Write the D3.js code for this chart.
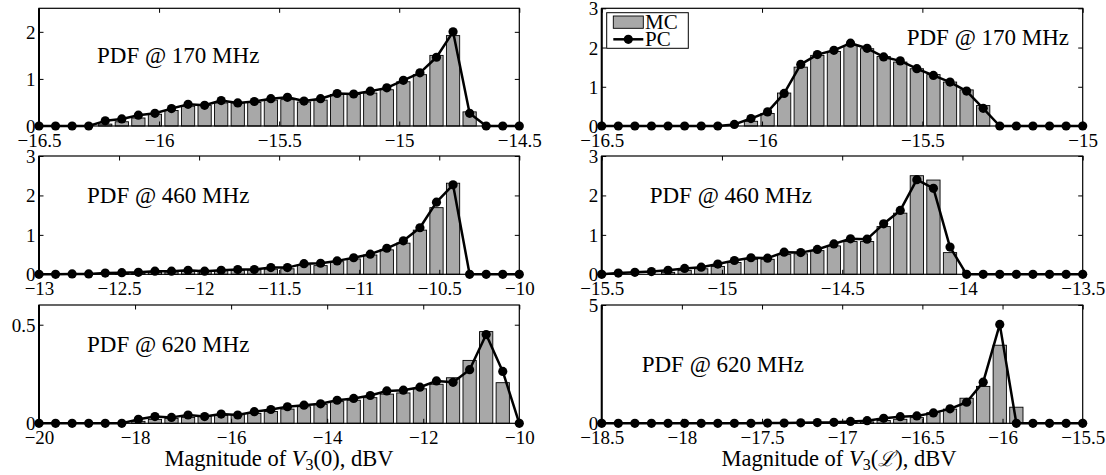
<!DOCTYPE html>
<html><head><meta charset="utf-8">
<script src="https://cdn.jsdelivr.net/npm/d3@7"></script>
<style>
body{margin:0;background:#fff}
svg{display:block}
</style>
</head><body>
<svg id="c" width="1106" height="475" style="font-family:'Liberation Serif','DejaVu Serif',serif"></svg>
<script>
// ---------- data ----------
const binCount = 30;

const xDomain170L = [-16.5, -14.5];
const xTicks170L = [-16.5, -16, -15.5, -15, -14.5];
const xLabels170L = ["−16.5", "−16", "−15.5", "−15", "−14.5"];
const yTicks170L = [0, 1, 2];
const yLabels170L = ["0", "1", "2"];
const pc170L = [0,0,0,0,0.11,0.15,0.23,0.27,0.37,0.46,0.44,0.54,0.49,0.52,0.58,0.61,0.53,0.58,0.69,0.68,0.74,0.81,0.97,1.13,1.46,2.0,0.27,0,0,0];
const mc170L = [0,0,0,0,0.04,0.09,0.17,0.25,0.33,0.42,0.44,0.49,0.49,0.50,0.55,0.56,0.51,0.55,0.67,0.67,0.70,0.77,0.94,1.09,1.50,1.92,0.30,0,0,0];

const xDomain170R = [-16.5, -15];
const xTicks170R = [-16.5, -16, -15.5, -15];
const xLabels170R = ["−16.5", "−16", "−15.5", "−15"];
const yTicks170R = [0, 1, 2, 3];
const yLabels170R = ["0", "1", "2", "3"];
const pc170R = [0,0,0,0,0,0,0,0,0.04,0.19,0.36,0.83,1.57,1.82,1.93,2.11,1.98,1.76,1.66,1.46,1.29,1.12,0.89,0.45,0,0,0,0,0,0];
const mc170R = [0,0,0,0,0,0,0,0,0,0.12,0.32,0.84,1.50,1.80,1.90,2.05,1.97,1.77,1.63,1.46,1.31,1.12,0.92,0.52,0,0,0,0,0,0];

const xDomain460L = [-13, -10];
const xTicks460L = [-13, -12.5, -12, -11.5, -11, -10.5, -10];
const xLabels460L = ["−13", "−12.5", "−12", "−11.5", "−11", "−10.5", "−10"];
const yTicks460L = [0, 1, 2, 3];
const yLabels460L = ["0", "1", "2", "3"];
const pc460L = [0,0,0.01,0.01,0.03,0.04,0.05,0.08,0.08,0.10,0.08,0.10,0.12,0.12,0.17,0.17,0.27,0.28,0.34,0.42,0.51,0.66,0.85,1.18,1.83,2.27,0,0,0,0];
const mc460L = [0,0,0,0,0,0.02,0.03,0.05,0.06,0.07,0.08,0.09,0.10,0.11,0.13,0.14,0.24,0.22,0.32,0.39,0.49,0.62,0.79,1.12,1.69,2.31,0,0,0,0];

const xDomain460R = [-15.5, -13.5];
const xTicks460R = [-15.5, -15, -14.5, -14, -13.5];
const xLabels460R = ["−15.5", "−15", "−14.5", "−14", "−13.5"];
const yTicks460R = [0, 1, 2, 3];
const yLabels460R = ["0", "1", "2", "3"];
const pc460R = [0,0.03,0.05,0.07,0.10,0.15,0.18,0.26,0.35,0.42,0.41,0.56,0.55,0.63,0.77,0.90,0.89,1.28,1.62,2.40,2.18,0.69,0,0,0,0,0,0,0,0];
const mc460R = [0,0,0,0,0.05,0.10,0.14,0.20,0.30,0.38,0.38,0.50,0.52,0.60,0.72,0.83,0.83,1.21,1.55,2.50,2.39,0.55,0,0,0,0,0,0,0,0];

const xDomain620L = [-20, -10];
const xTicks620L = [-20, -18, -16, -14, -12, -10];
const xLabels620L = ["−20", "−18", "−16", "−14", "−12", "−10"];
const yTicks620L = [0, 0.5];
const yLabels620L = ["0", "0.5"];
const pc620L = [0,0,0,0,0,0,0.020,0.034,0.030,0.042,0.034,0.047,0.042,0.059,0.070,0.084,0.092,0.099,0.117,0.126,0.141,0.164,0.168,0.183,0.215,0.208,0.272,0.450,0.263,0];
const mc620L = [0,0,0,0,0,0,0.010,0.020,0.025,0.030,0.035,0.040,0.045,0.050,0.060,0.072,0.084,0.096,0.110,0.117,0.130,0.148,0.154,0.175,0.198,0.231,0.319,0.465,0.206,0];

const xDomain620R = [-18.5, -15.5];
const xTicks620R = [-18.5, -18, -17.5, -17, -16.5, -16, -15.5];
const xLabels620R = ["−18.5", "−18", "−17.5", "−17", "−16.5", "−16", "−15.5"];
const yTicks620R = [0, 5];
const yLabels620R = ["0", "5"];
const pc620R = [0,0,0,0,0,0,0,0,0,0,0.01,0.01,0.02,0.03,0.04,0.08,0.11,0.21,0.28,0.31,0.44,0.61,0.89,1.74,4.18,0,0,0,0,0];
const mc620R = [0,0,0,0,0,0,0,0,0,0,0,0,0.01,0.02,0.03,0.04,0.06,0.12,0.17,0.24,0.45,0.60,1.06,1.56,3.30,0.68,0,0,0,0];

const panelLabels = ["PDF @ 170 MHz", "PDF @ 170 MHz", "PDF @ 460 MHz", "PDF @ 460 MHz", "PDF @ 620 MHz", "PDF @ 620 MHz"];
const yMaxes = [2.5, 3, 3, 3, 0.6, 5];
const legendLabels = ["MC", "PC"];

// ---------- layout ----------
const FONT = "'Liberation Serif','DejaVu Serif',serif";
const cols = [[39, 519.3], [601.7, 1082.7]];
const rows = [[8.3, 126], [156, 274.3], [305, 423.3]];
const labelPos = [[58, 55], [305, 37], [48, 47], [48, 47], [48, 47], [40, 67]];

const panels = [
  {xd: xDomain170L, xt: xTicks170L, xl: xLabels170L, yt: yTicks170L, yl: yLabels170L, pc: pc170L, mc: mc170L},
  {xd: xDomain170R, xt: xTicks170R, xl: xLabels170R, yt: yTicks170R, yl: yLabels170R, pc: pc170R, mc: mc170R},
  {xd: xDomain460L, xt: xTicks460L, xl: xLabels460L, yt: yTicks460L, yl: yLabels460L, pc: pc460L, mc: mc460L},
  {xd: xDomain460R, xt: xTicks460R, xl: xLabels460R, yt: yTicks460R, yl: yLabels460R, pc: pc460R, mc: mc460R},
  {xd: xDomain620L, xt: xTicks620L, xl: xLabels620L, yt: yTicks620L, yl: yLabels620L, pc: pc620L, mc: mc620L},
  {xd: xDomain620R, xt: xTicks620R, xl: xLabels620R, yt: yTicks620R, yl: yLabels620R, pc: pc620R, mc: mc620R}
];

const svg = d3.select("#c");
const tickLen = 4.5;
const tickFont = 19;
const barFill = "#a8a8a8";

panels.forEach((p, i) => {
  const [x0, x1] = cols[i % 2];
  const [y0, y1] = rows[Math.floor(i / 2)];
  const x = d3.scaleLinear().domain(p.xd).range([x0, x1]);
  const y = d3.scaleLinear().domain([0, yMaxes[i]]).range([y1, y0]);
  const centers = d3.range(binCount).map(k => p.xd[0] + k * (p.xd[1] - p.xd[0]) / (binCount - 1));
  const step = x(centers[1]) - x(centers[0]);
  const bw = step * 0.8;
  const g = svg.append("g");

  // bars (MC)
  g.append("g").selectAll("rect").data(p.mc.map((v, k) => ({v, c: centers[k]})).filter(d => d.v > 0)).join("rect")
    .attr("x", d => x(d.c) - bw / 2)
    .attr("width", bw)
    .attr("y", d => y(d.v))
    .attr("height", d => y(0) - y(d.v))
    .attr("fill", barFill)
    .attr("stroke", "#000")
    .attr("stroke-width", 0.9);

  // axes box
  g.append("rect").attr("x", x0).attr("y", y0).attr("width", x1 - x0).attr("height", y1 - y0)
    .attr("fill", "none").attr("stroke", "#000").attr("stroke-width", 1.2);
  g.append("line").attr("x1", x0).attr("x2", x0).attr("y1", y0).attr("y2", y1)
    .attr("stroke", "#000").attr("stroke-width", 2);

  // ticks
  const axB = g.append("g").attr("transform", `translate(0,${y1})`)
    .call(d3.axisBottom(x).tickValues(p.xt).tickSize(-tickLen).tickPadding(7.5).tickFormat((d, k) => p.xl[k]));
  const axT = g.append("g").attr("transform", `translate(0,${y0})`)
    .call(d3.axisTop(x).tickValues(p.xt).tickSize(-tickLen).tickFormat(""));
  const axL = g.append("g").attr("transform", `translate(${x0},0)`)
    .call(d3.axisLeft(y).tickValues(p.yt).tickSize(-tickLen).tickPadding(3.5).tickFormat((d, k) => p.yl[k]));
  const axR = g.append("g").attr("transform", `translate(${x1},0)`)
    .call(d3.axisRight(y).tickValues(p.yt).tickSize(-tickLen).tickFormat(""));
  [axB, axT, axL, axR].forEach(a => {
    a.attr("font-family", FONT).attr("font-size", tickFont);
    a.select(".domain").remove();
    a.selectAll("line").attr("stroke", "#000").attr("stroke-width", 1);
    a.selectAll("text").style("font-family", FONT).style("font-size", tickFont + "px").attr("fill", "#000");
  });
  axL.selectAll("text").attr("dy", "0.34em");

  // PC line + markers
  const line = d3.line().x((d, k) => x(centers[k])).y(d => y(d));
  g.append("path").datum(p.pc).attr("d", line)
    .attr("fill", "none").attr("stroke", "#000").attr("stroke-width", 2.5).attr("stroke-linejoin", "round");
  g.append("g").selectAll("circle").data(p.pc).join("circle")
    .attr("cx", (d, k) => x(centers[k])).attr("cy", d => y(d)).attr("r", 4.6).attr("fill", "#000");

  // panel label
  g.append("text").attr("x", x0 + labelPos[i][0]).attr("y", y0 + labelPos[i][1])
    .style("font-family", FONT).style("font-size", "23px").text(panelLabels[i]);

  // legend in panel 2
  if (i === 1) {
    const lg = svg.append("g");
    lg.append("rect").attr("x", 606.7).attr("y", 12.7).attr("width", 81.6).attr("height", 35.6)
      .attr("fill", "#fff").attr("stroke", "#000").attr("stroke-width", 1);
    lg.append("rect").attr("x", 613.3).attr("y", 16).attr("width", 30).attr("height", 12.3)
      .attr("fill", barFill).attr("stroke", "#000").attr("stroke-width", 0.9);
    lg.append("text").attr("x", 645).attr("y", 28.5).style("font-family", FONT).style("font-size", "21px").text(legendLabels[0]);
    lg.append("line").attr("x1", 613.3).attr("x2", 643.3).attr("y1", 39.3).attr("y2", 39.3)
      .attr("stroke", "#000").attr("stroke-width", 2.5);
    lg.append("circle").attr("cx", 628.3).attr("cy", 39.3).attr("r", 4.6).attr("fill", "#000");
    lg.append("text").attr("x", 645).attr("y", 46).style("font-family", FONT).style("font-size", "21px").text(legendLabels[1]);
  }
});

// axis titles
function title(cx, sym) {
  const t = svg.append("text").attr("x", cx).attr("y", 466).attr("text-anchor", "middle")
    .style("font-family", FONT).style("font-size", "22.5px");
  t.append("tspan").text("Magnitude of ");
  t.append("tspan").attr("font-style", "italic").text("V");
  t.append("tspan").attr("dy", 4).style("font-size", "16px").text("3");
  t.append("tspan").attr("dy", -4).text("(");
  if (sym === "0") t.append("tspan").text("0");
  else t.append("tspan").attr("font-style", "italic").style("font-size", "20px").text("ℒ");
  t.append("tspan").text("), dBV");
}
title(279, "0");
title(839, "L");
</script>
</body></html>
